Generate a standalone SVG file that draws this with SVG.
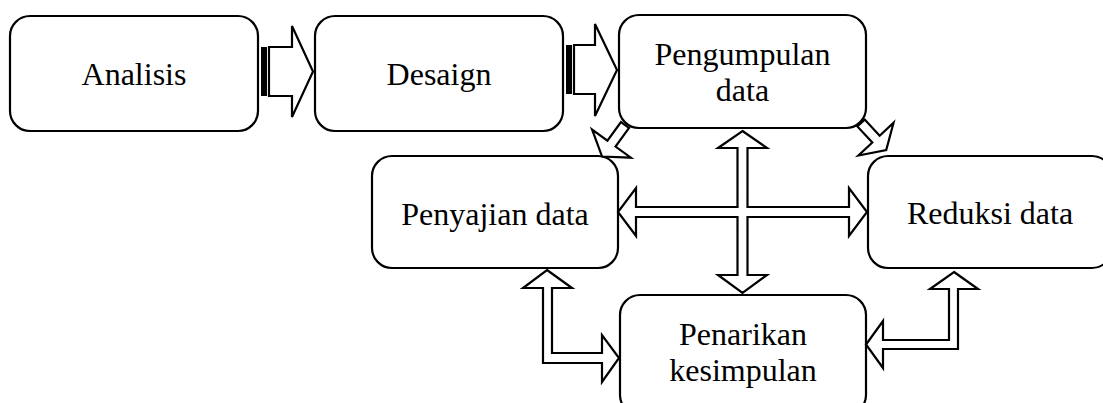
<svg xmlns="http://www.w3.org/2000/svg" width="1103" height="403" viewBox="0 0 1103 403">
<style>
.box{fill:#fff;stroke:#000;stroke-width:2.2}
.t{font-family:"Liberation Serif","Times New Roman",serif;font-size:32px;fill:#000;text-anchor:middle}
.arr{fill:#fff;stroke:#000;stroke-width:2.2;stroke-linejoin:miter}
</style>
<rect width="1103" height="403" fill="#fff"/>
<g id="analisis"><rect class="box" x="10" y="16" width="248" height="115" rx="20"/><text class="t" x="134" y="85">Analisis</text></g>
<g id="desaign"><rect class="box" x="315" y="16" width="248" height="115" rx="20"/><text class="t" x="439" y="85">Desaign</text></g>
<g id="pengumpulan"><rect class="box" x="619" y="15" width="247" height="113" rx="20"/><text class="t" x="742.5" y="65">Pengumpulan</text><text class="t" x="742.5" y="101">data</text></g>
<g id="penyajian"><rect class="box" x="372" y="156" width="246" height="112" rx="20"/><text class="t" x="495" y="225">Penyajian data</text></g>
<g id="reduksi"><rect class="box" x="868" y="156" width="244" height="112" rx="20"/><text class="t" x="990" y="224">Reduksi data</text></g>
<g id="penarikan"><rect class="box" x="620" y="295" width="246" height="120" rx="20"/><text class="t" x="743" y="345">Penarikan</text><text class="t" x="743" y="381">kesimpulan</text></g>
<g id="connectors">
<rect x="261" y="47" width="6" height="49" fill="#000"/>
<path class="arr" d="M269,47 H292 V26 L313,71.5 L292,117 V96 H269 Z"/>
<rect x="566" y="45" width="6" height="49" fill="#000"/>
<path class="arr" d="M574,45 H595 V24 L617,70 L595,116 V94 H574 Z"/>
<path class="arr" transform="translate(625,125) rotate(126)" d="M0,-5 H23 V-24 L39,0 L23,24 V5 H0 Z"/>
<path class="arr" transform="translate(861,123) rotate(47)" d="M0,-5 H22 V-24 L37,0 L22,24 V5 H0 Z"/>
<path class="arr" d="M742.5,131 L767,148 H747.5 V207 H849 V188 L867,212 L849,236 V217 H747.5 V275 H767 L742.5,293 L718,275 H737.5 V217 H636 V236 L618,212 L636,188 V207 H737.5 V148 H718 Z"/>
<path class="arr" d="M547,270 L572,288 H552 V353 H602 V335 L619,358 L602,382 V363 H543 V288 H523 Z"/>
<path class="arr" d="M954,272 L978,289 H958 V349 H883 V368 L866,344.5 L883,321 V340 H949 V289 H930 Z"/>
</g>
</svg>
